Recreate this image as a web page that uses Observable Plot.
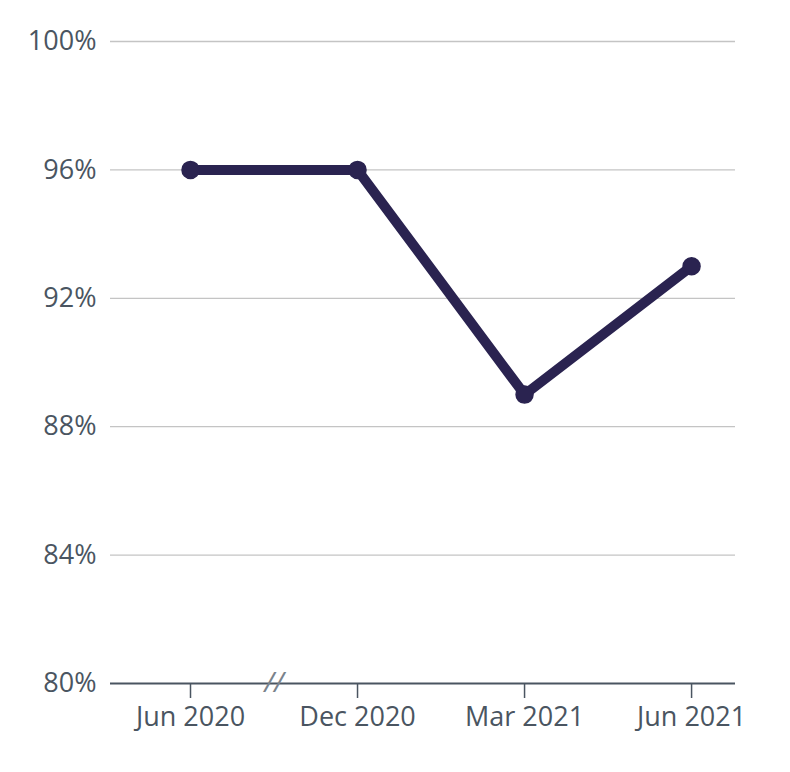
<!DOCTYPE html>
<html>
<head>
<meta charset="utf-8">
<script src="https://cdn.jsdelivr.net/npm/d3@7"></script>
<script src="https://cdn.jsdelivr.net/npm/@observablehq/plot@0.6"></script>
<style>
  html, body { margin: 0; padding: 0; background: #fff; }
  svg { font-family: "Open Sans", "Noto Sans", sans-serif; }
</style>
</head>
<body>
<div id="chart"></div>
<script>
const periods = ["Jun 2020", "Dec 2020", "Mar 2021", "Jun 2021"];
const values = [96, 96, 89, 93];
const yTicks = [80, 84, 88, 92, 96, 100];
const breakPosition = [0.5];

const data = periods.map((p, i) => ({ i, period: p, value: values[i] }));
const axisColor = "#4a5561";
const lineColor = "#2a2350";

const chart = Plot.plot({
  width: 790,
  height: 772,
  marginLeft: 110,
  marginRight: 55,
  marginTop: 41,
  marginBottom: 89,
  style: { fontSize: "27px", color: axisColor, background: "#fff" },
  x: { domain: [-0.479, 3.263], ticks: [0, 1, 2, 3], tickFormat: i => periods[i], label: null },
  y: { domain: [80, 100], ticks: yTicks, tickFormat: d => d + "%", label: null },
  marks: [
    Plot.gridY(yTicks.filter(d => d > 80), { stroke: "#c4c4c4", strokeOpacity: 1, strokeWidth: 1.3 }),
    Plot.axisY({ ticks: yTicks, tickSize: 0, tickPadding: 14, tickFormat: d => d + "%", label: null, fontSize: 27, fill: axisColor }),
    Plot.axisX({ ticks: [0, 1, 2, 3], tickSize: 15, tickPadding: 8, tickFormat: i => periods[i], label: null, fontSize: 27, stroke: axisColor, fill: axisColor, strokeWidth: 1.5 }),
    Plot.ruleY([80], { stroke: axisColor, strokeWidth: 2 }),
    Plot.text(breakPosition, { x: d => d, y: () => 80, text: () => "//", fontSize: 28, fill: "#7a838c", fontStyle: "italic" }),
    Plot.line(data, { x: "i", y: "value", stroke: lineColor, strokeWidth: 10, strokeLinejoin: "round", strokeLinecap: "round" }),
    Plot.dot(data, { x: "i", y: "value", r: 8.5, fill: lineColor, stroke: lineColor })
  ]
});
document.getElementById("chart").appendChild(chart);
</script>
</body>
</html>
